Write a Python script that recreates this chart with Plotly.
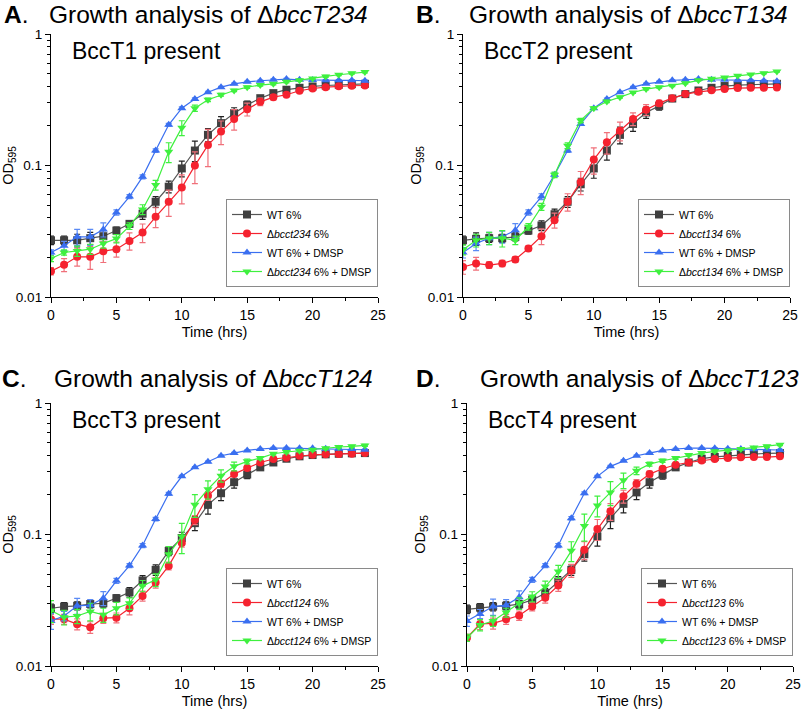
import plotly.graph_objects as go

hours = list(range(25))

# ---------- Panel A ----------
A_wt = [0.027,0.027,0.027,0.028,0.029,0.032,0.036,0.043,0.053,0.069,0.095,0.130,0.171,0.210,0.250,0.289,0.325,0.355,0.377,0.390,0.399,0.406,0.411,0.416,0.418]
A_mut = [0.0157,0.0176,0.0202,0.0202,0.0223,0.0231,0.0267,0.0309,0.0407,0.053,0.068,0.0998,0.143,0.181,0.226,0.268,0.305,0.331,0.345,0.370,0.385,0.394,0.401,0.404,0.406]
A_wtd = [0.0218,0.0245,0.0287,0.0287,0.0326,0.044,0.058,0.082,0.130,0.204,0.273,0.321,0.361,0.394,0.418,0.433,0.441,0.449,0.454,0.449,0.446,0.444,0.444,0.444,0.441]
A_mutd = [0.0196,0.0218,0.0224,0.0231,0.0255,0.0278,0.0346,0.0463,0.071,0.127,0.194,0.273,0.316,0.345,0.372,0.394,0.409,0.418,0.433,0.444,0.459,0.476,0.490,0.504,0.513]
A_wt_err = [0.002,0.002,0.003,0.003,0.003,0.002,0.002,0.004,0.005,0.007,0.013,0.023,0.02,0.025,0.025,0.02,0.015,0.01,0.01,0.008,0.008,0.008,0.008,0.008,0.008]
A_mut_err = [0.001,0.002,0.003,0.004,0.004,0.003,0.004,0.005,0.007,0.012,0.017,0.027,0.045,0.037,0.04,0.03,0.02,0.015,0.01,0.008,0.008,0.008,0.008,0.008,0.008]
A_wtd_err = [0.001,0.002,0.004,0.004,0.004,0.002,0.002,0.003,0.004,0.005,0.006,0.006,0.006,0.006,0.006,0.006,0.006,0.006,0.006,0.006,0.006,0.006,0.006,0.006,0.006]
A_mutd_err = [0.001,0.001,0.002,0.002,0.002,0.002,0.002,0.004,0.006,0.022,0.025,0.015,0.01,0.008,0.008,0.008,0.008,0.008,0.008,0.008,0.008,0.008,0.008,0.008,0.008]

# ---------- Panel B ----------
B_wt = [0.027,0.0277,0.028,0.028,0.0287,0.032,0.035,0.0426,0.053,0.072,0.095,0.130,0.171,0.207,0.253,0.284,0.323,0.349,0.372,0.390,0.402,0.408,0.413,0.416,0.418]
B_mut = [0.0169,0.0180,0.0175,0.0180,0.0193,0.0234,0.029,0.0384,0.053,0.075,0.111,0.150,0.184,0.226,0.265,0.298,0.325,0.349,0.363,0.374,0.381,0.388,0.390,0.390,0.392]
B_wtd = [0.0218,0.0255,0.028,0.0287,0.0322,0.044,0.058,0.085,0.130,0.207,0.273,0.321,0.361,0.394,0.418,0.433,0.444,0.449,0.454,0.449,0.449,0.444,0.444,0.441,0.438]
B_mutd = [0.0229,0.027,0.028,0.028,0.027,0.0342,0.0486,0.085,0.1416,0.220,0.273,0.307,0.331,0.359,0.381,0.394,0.404,0.423,0.444,0.456,0.467,0.481,0.492,0.504,0.519]
B_wt_err = [0.002,0.003,0.002,0.002,0.002,0.002,0.003,0.004,0.005,0.008,0.015,0.02,0.025,0.025,0.025,0.02,0.01,0.008,0.008,0.008,0.008,0.008,0.008,0.008,0.008]
B_mut_err = [0.002,0.002,0.001,0.001,0.001,0.001,0.004,0.005,0.008,0.015,0.025,0.028,0.03,0.025,0.025,0.015,0.01,0.008,0.008,0.008,0.008,0.008,0.008,0.008,0.008]
B_wtd_err = [0.002,0.003,0.003,0.003,0.004,0.002,0.003,0.003,0.004,0.005,0.005,0.005,0.005,0.005,0.005,0.005,0.005,0.005,0.005,0.005,0.005,0.005,0.005,0.005,0.005]
B_mutd_err = [0.002,0.003,0.003,0.004,0.002,0.002,0.003,0.004,0.007,0.008,0.006,0.006,0.006,0.006,0.006,0.006,0.006,0.006,0.006,0.006,0.006,0.006,0.006,0.006,0.006]

# ---------- Panel C ----------
C_wt = [0.0275,0.0283,0.0287,0.0296,0.030,0.0328,0.0364,0.0447,0.0538,0.075,0.094,0.122,0.168,0.206,0.250,0.286,0.324,0.353,0.377,0.393,0.402,0.407,0.411,0.414,0.416]
C_mut = [0.0227,0.0227,0.0208,0.0197,0.0231,0.0233,0.0275,0.0341,0.0431,0.0577,0.086,0.129,0.197,0.243,0.288,0.320,0.353,0.375,0.384,0.397,0.404,0.407,0.409,0.411,0.416]
C_wtd = [0.022,0.024,0.0287,0.029,0.0328,0.0444,0.058,0.0824,0.131,0.204,0.277,0.324,0.357,0.397,0.416,0.436,0.447,0.454,0.454,0.452,0.452,0.449,0.449,0.447,0.441]
C_mutd = [0.0264,0.0235,0.024,0.026,0.0245,0.0275,0.030,0.0407,0.0452,0.0708,0.0966,0.168,0.221,0.280,0.330,0.360,0.381,0.411,0.424,0.434,0.441,0.452,0.463,0.468,0.476]
C_wt_err = [0.002,0.002,0.002,0.002,0.002,0.002,0.003,0.004,0.005,0.006,0.01,0.015,0.025,0.025,0.025,0.02,0.01,0.008,0.008,0.008,0.008,0.008,0.008,0.008,0.008]
C_mut_err = [0.002,0.002,0.002,0.002,0.002,0.002,0.003,0.003,0.004,0.004,0.006,0.01,0.015,0.015,0.012,0.01,0.008,0.008,0.008,0.008,0.008,0.008,0.008,0.008,0.008]
C_wtd_err = [0.003,0.002,0.004,0.003,0.004,0.002,0.002,0.003,0.004,0.005,0.005,0.005,0.005,0.005,0.005,0.005,0.005,0.005,0.005,0.005,0.005,0.005,0.005,0.005,0.005]
C_mutd_err = [0.005,0.003,0.003,0.004,0.003,0.003,0.003,0.004,0.005,0.01,0.025,0.033,0.035,0.03,0.025,0.015,0.01,0.008,0.008,0.008,0.008,0.008,0.008,0.008,0.008]

# ---------- Panel D ----------
D_wt = [0.027,0.0278,0.0283,0.0287,0.0295,0.0318,0.0358,0.0438,0.0538,0.0708,0.0966,0.133,0.171,0.209,0.250,0.284,0.324,0.353,0.377,0.389,0.397,0.404,0.409,0.414,0.416]
D_mut = [0.0164,0.0209,0.0211,0.0227,0.0242,0.0283,0.0331,0.0409,0.0532,0.0764,0.110,0.150,0.195,0.243,0.288,0.316,0.339,0.353,0.366,0.375,0.381,0.386,0.388,0.388,0.393]
D_wtd = [0.022,0.0249,0.0283,0.029,0.0333,0.0452,0.058,0.0824,0.133,0.206,0.277,0.330,0.364,0.397,0.416,0.436,0.447,0.454,0.454,0.452,0.449,0.447,0.444,0.441,0.439]
D_mutd = [0.0164,0.0205,0.022,0.0255,0.030,0.0337,0.0402,0.0523,0.0751,0.116,0.166,0.209,0.258,0.305,0.343,0.364,0.381,0.402,0.416,0.429,0.436,0.447,0.459,0.468,0.482]
D_wt_err = [0.002,0.002,0.002,0.002,0.002,0.002,0.003,0.004,0.005,0.008,0.015,0.022,0.025,0.025,0.025,0.02,0.01,0.008,0.008,0.008,0.008,0.008,0.008,0.008,0.008]
D_mut_err = [0.001,0.002,0.002,0.002,0.002,0.002,0.003,0.004,0.006,0.012,0.02,0.022,0.022,0.018,0.015,0.01,0.008,0.008,0.008,0.008,0.008,0.008,0.008,0.008,0.008]
D_wtd_err = [0.002,0.002,0.004,0.003,0.004,0.002,0.002,0.003,0.004,0.005,0.005,0.005,0.005,0.005,0.005,0.005,0.005,0.005,0.005,0.005,0.005,0.005,0.005,0.005,0.005]
D_mutd_err = [0.001,0.002,0.002,0.002,0.003,0.003,0.004,0.006,0.013,0.027,0.03,0.043,0.035,0.02,0.012,0.01,0.008,0.008,0.008,0.008,0.008,0.008,0.008,0.008,0.008]

panel_letters = ["A", "B", "C", "D"]
mutants = ["234", "134", "124", "123"]
present_labels = ["BccT1 present", "BccT2 present", "BccT3 present", "BccT4 present"]

panels = [
    (A_wt, A_mut, A_wtd, A_mutd, A_wt_err, A_mut_err, A_wtd_err, A_mutd_err),
    (B_wt, B_mut, B_wtd, B_mutd, B_wt_err, B_mut_err, B_wtd_err, B_mutd_err),
    (C_wt, C_mut, C_wtd, C_mutd, C_wt_err, C_mut_err, C_wtd_err, C_mutd_err),
    (D_wt, D_mut, D_wtd, D_mutd, D_wt_err, D_mut_err, D_wtd_err, D_mutd_err),
]

W, H = 810, 712
# plot rectangles in pixels: (left, right, top, bottom)
rects = [(51, 378, 34, 297), (463, 790, 34, 297), (51, 378, 403, 666), (467, 793, 403, 666)]
# (letter x, title x, title top y)
title_pos = [(3, 48, 0), (415, 468, 0), (1, 53, 364), (415, 479, 364)]

FONT = "Arial, Liberation Sans, sans-serif"
styles = [
    dict(color="#3f3f3f", line="#555555", err="#222222", symbol="square"),
    dict(color="#f5222f", line="#f5222f", err="#f0707a", symbol="circle"),
    dict(color="#3a6ff0", line="#3a6ff0", err="#5a8af5", symbol="triangle-up"),
    dict(color="#3ff03f", line="#3ff03f", err="#3ff03f", symbol="triangle-down"),
]

fig = go.Figure()
annotations = []
layout = {}
minor_y = [v * 10 ** e for e in (-2, -1) for v in range(2, 10)]

for i, (vals, letter, mut, pres, rect, tp) in enumerate(zip(panels, panel_letters, mutants, present_labels, rects, title_pos)):
    n = "" if i == 0 else str(i + 1)
    xa, ya = "x" + n, "y" + n
    lg = "legend" + n
    names = ["WT 6%", "Δ<i>bcct%s</i> 6%%" % mut, "WT 6% + DMSP", "Δ<i>bcct%s</i> 6%% + DMSP" % mut]
    series = vals[:4]
    errs = vals[4:]
    for s, e, nm, st in zip(series, errs, names, styles):
        fig.add_trace(go.Scatter(
            x=hours, y=s, name=nm, mode="lines+markers",
            xaxis=xa, yaxis=ya, legend=lg,
            line=dict(color=st["line"], width=1.2),
            marker=dict(symbol=st["symbol"], size=8, color=st["color"]),
            error_y=dict(type="data", array=e, visible=True, color=st["err"], thickness=1.2, width=3),
        ))
    l, r, t, b = rect
    layout["xaxis" + n] = dict(
        domain=[l / W, r / W], anchor=ya, range=[0, 25], tickvals=[0, 5, 10, 15, 20, 25],
        ticks="outside", ticklen=5, tickwidth=1, tickcolor="black", automargin=False,
        minor=dict(ticks="outside", ticklen=3, tickvals=[2.5, 7.5, 12.5, 17.5, 22.5], tickcolor="black"),
        showline=True, linecolor="black", linewidth=1.3, showgrid=False, zeroline=False,
        tickfont=dict(family=FONT, size=14, color="black"),
        title=dict(text="Time (hrs)", font=dict(family=FONT, size=14.5, color="black"), standoff=4),
    )
    layout["yaxis" + n] = dict(
        domain=[1 - b / H, 1 - t / H], anchor=xa, type="log", range=[-2, 0],
        tickvals=[0.01, 0.1, 1], ticktext=["0.01", "0.1", "1"], automargin=False,
        ticks="outside", ticklen=5, tickwidth=1, tickcolor="black",
        minor=dict(ticks="outside", ticklen=3, tickvals=minor_y, tickcolor="black"),
        showline=True, linecolor="black", linewidth=1.3, showgrid=False, zeroline=False,
        tickfont=dict(family=FONT, size=13.5, color="black"),
        title=dict(text="OD<sub>595</sub>", font=dict(family=FONT, size=14.5, color="black"), standoff=2),
    )
    layout[lg] = dict(
        x=r / W, y=1 - b / H + 10 / H, xanchor="right", yanchor="bottom",
        bgcolor="white", bordercolor="#8a8a8a", borderwidth=1,
        font=dict(family=FONT, size=10.5, color="black"),
        tracegroupgap=0, itemwidth=30,
    )
    lx, gx, ty = tp
    annotations.append(dict(text="<b>%s</b>." % letter, x=lx / W, y=1 - ty / H, xref="paper", yref="paper",
                            xanchor="left", yanchor="top", showarrow=False, borderpad=0,
                            font=dict(family=FONT, size=24.5, color="black")))
    annotations.append(dict(text="Growth analysis of Δ<i>bccT%s</i>" % mut, x=gx / W, y=1 - ty / H,
                            xref="paper", yref="paper", xanchor="left", yanchor="top", showarrow=False,
                            borderpad=0, font=dict(family=FONT, size=24.5, color="black")))
    annotations.append(dict(text=pres, x=(l + 19) / W, y=1 - (t + 17) / H, xref="paper", yref="paper",
                            xanchor="left", yanchor="middle", showarrow=False,
                            font=dict(family=FONT, size=23, color="black")))

fig.update_layout(
    width=W, height=H, margin=dict(l=0, r=0, t=0, b=0, autoexpand=False),
    paper_bgcolor="white", plot_bgcolor="white",
    showlegend=True, annotations=annotations, **layout,
)
fig.write_html("out.html", config={"displayModeBar": False},
               post_script="document.body.style.margin='0';document.body.style.overflow='hidden';")
